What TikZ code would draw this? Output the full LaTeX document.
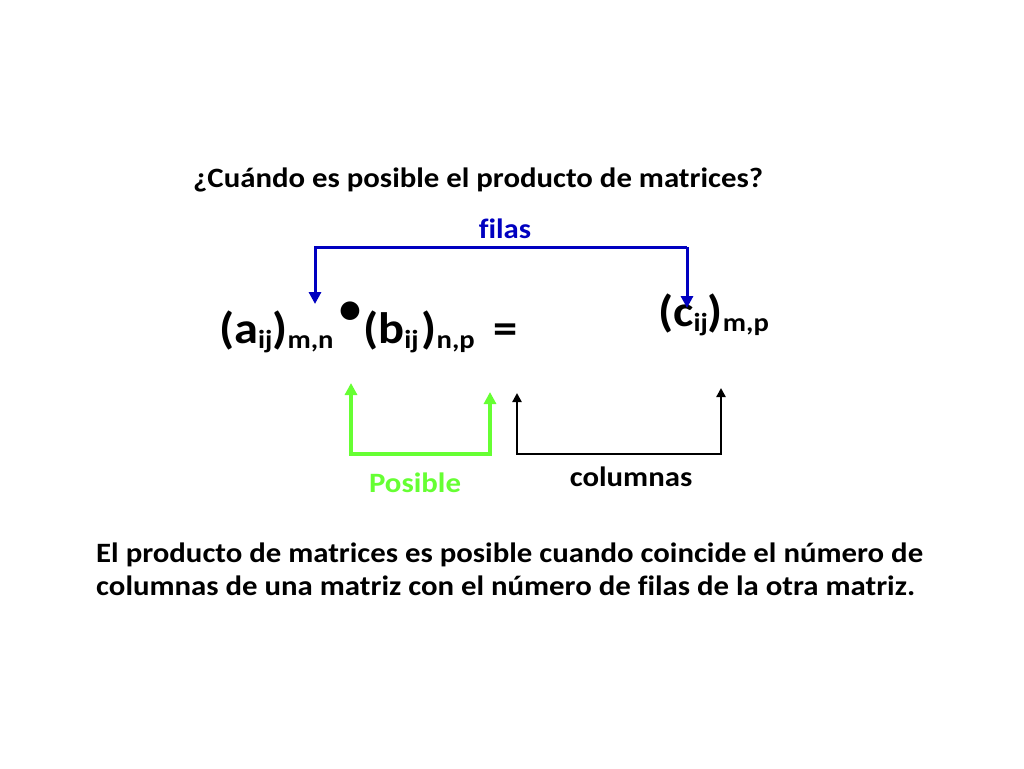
\documentclass[tikz,border=0pt]{standalone}
\usepackage{fontspec}
\setmainfont{Carlito}[FakeStretch=1.1,Ligatures=NoCommon]
\newfontfamily\plainfont{Carlito}
\usetikzlibrary{arrows.meta}
\definecolor{filasblue}{RGB}{0,0,192}
\definecolor{posgreen}{RGB}{102,255,51}
\newcommand\sbs[1]{\raisebox{-5pt}{\fontsize{26}{26}\selectfont #1}}
\begin{document}
\begin{tikzpicture}[x=1pt,y=-1pt,
  txt/.style={inner sep=0pt,font=\bfseries\fontsize{28}{34}\selectfont},
  big/.style={inner sep=0pt,anchor=base west,font=\bfseries\fontsize{44}{44}\selectfont},
  bluearr/.style={draw=filasblue,line width=3pt,-{Triangle[width=12pt,length=12pt]}},
  greenarr/.style={draw=posgreen,line width=3.3pt,{Triangle[width=12pt,length=12pt]}-{Triangle[width=12pt,length=12pt]}},
  blackarr/.style={draw=black,line width=2.7pt,{Triangle[width=9pt,length=9pt]}-{Triangle[width=9pt,length=9pt]}}]
\useasboundingbox[fill=white] (0,0) rectangle (1024,768);
\node[txt,anchor=base west] (title) at (193,187) {¿Cuándo es posible el producto de matrices?};
\node[txt,text=filasblue] (filas) at (505,229) {filas};
\node[big] (A) at (219,343) {(a\sbs{ij})\sbs{m,n}};
\node[inner sep=0pt,font=\plainfont\bfseries\fontsize{44}{44}\selectfont] (dot) at (350,313) {•};
\node[big] (B) at (363,343) {(b\sbs{ij}\hspace{3pt})\sbs{n,p}};
\node[big] (eq) at (493,343) {=};
\node[big] (C) at (658,326) {(c\sbs{ij})\sbs{m,p}};
\node[txt,text=posgreen] (pos) at (415,483) {Posible};
\node[txt] (col) at (631,477) {columnas};
\node[txt,anchor=base west] (expl1) at (96,562) {El producto de matrices es posible cuando coincide el número de};
\node[txt,anchor=base west] (expl2) at (96,595) {columnas de una matriz con el número de filas de la otra matriz.};
% blue
\coordinate (bA) at (315,304);
\coordinate (bC) at (687,308);
\draw[bluearr] (687,247) -- (bC);
\draw[bluearr] (687,247) -- (315,247) -- (bA);
% green
\coordinate (gA) at (351,383);
\coordinate (gB) at (490,392);
\draw[greenarr] (gA) -- (351,454) -- (490,454) -- (gB);
% black
\coordinate (kB) at (517,393);
\coordinate (kC) at (721,388);
\draw[blackarr] (kB) -- (517,454) -- (721,454) -- (kC);
\end{tikzpicture}
\end{document}
